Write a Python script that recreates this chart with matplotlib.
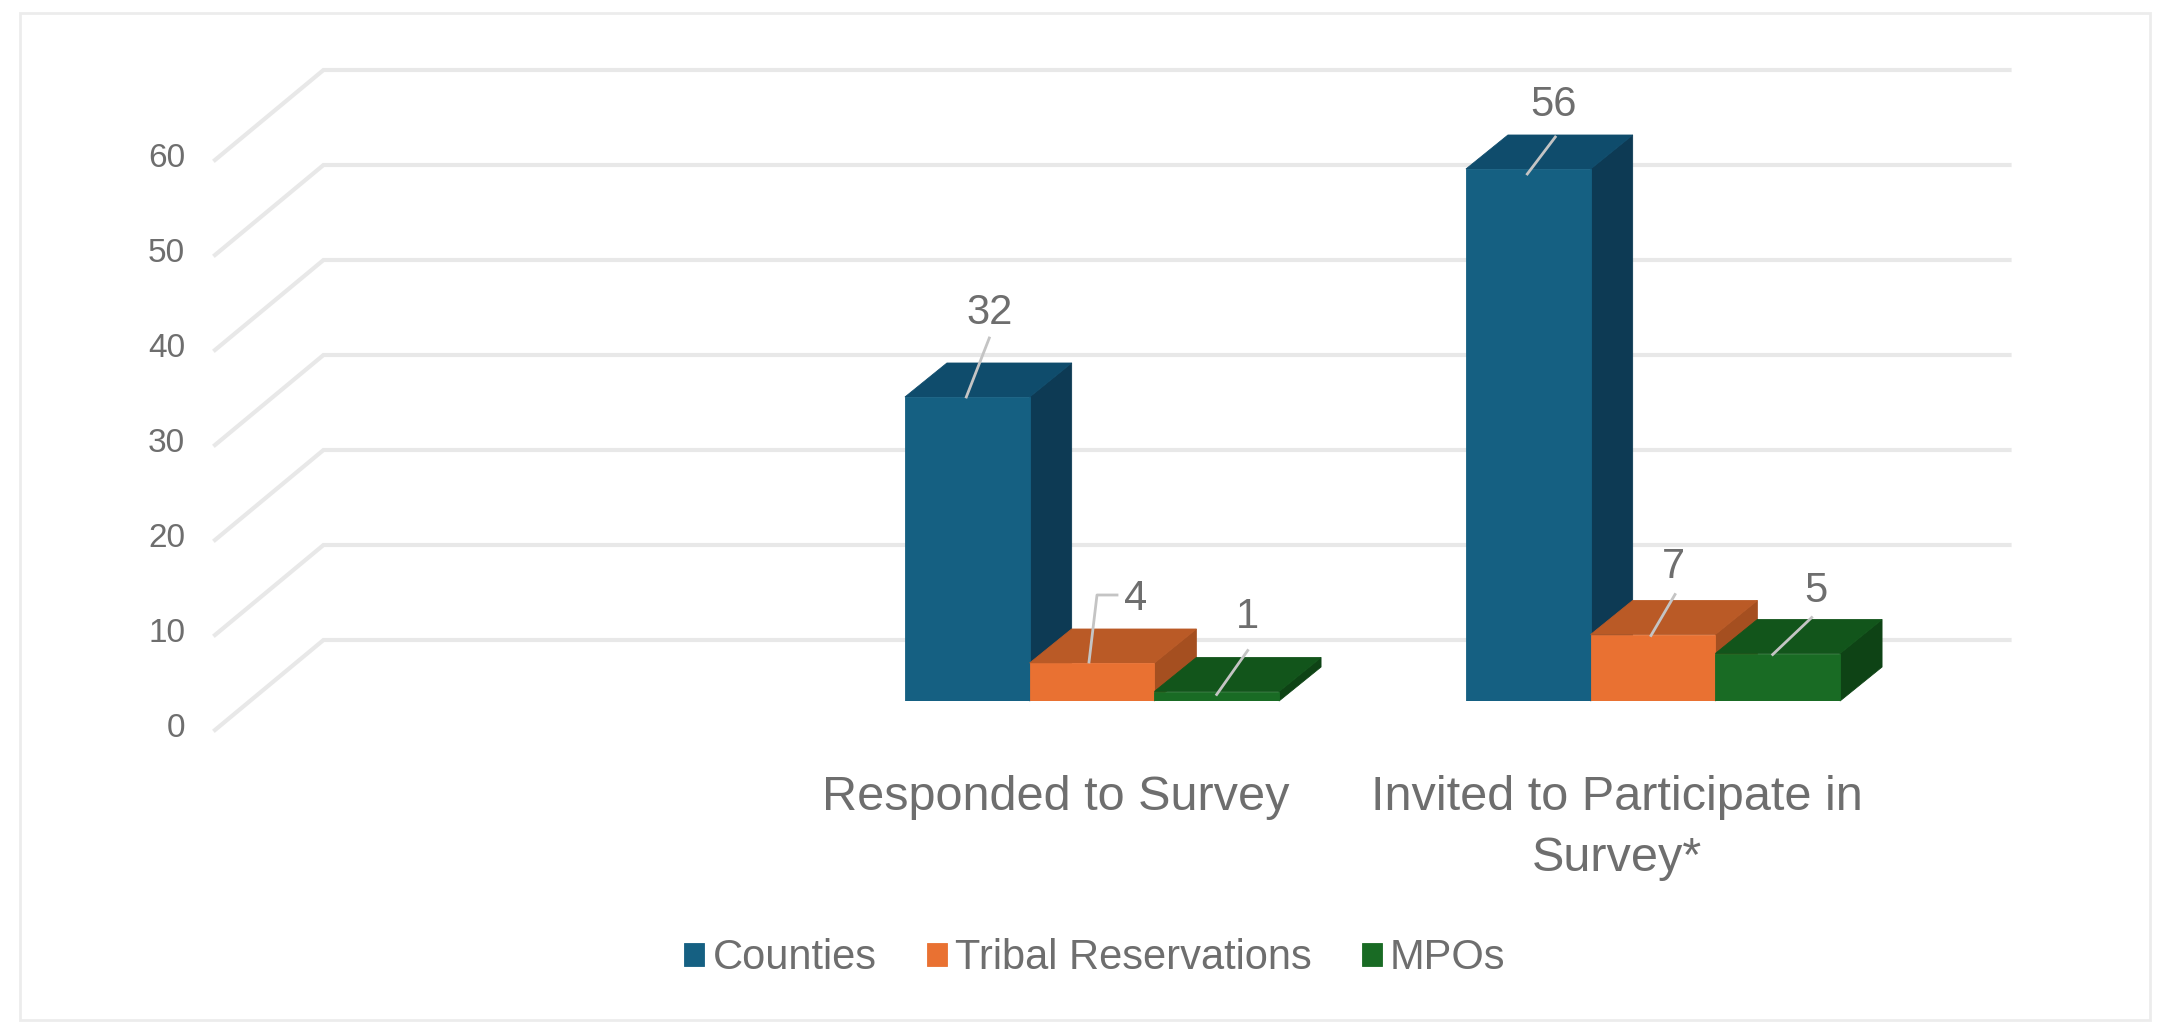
import matplotlib
matplotlib.use("Agg")
import matplotlib.pyplot as plt
from matplotlib.patches import Polygon, Rectangle
from matplotlib.transforms import ScaledTranslation

# survey counts, the first slot on the axis stays empty
categories = ["Responded to Survey", "Invited to Participate in\nSurvey*"]
cat_slots = [1, 2]
counties = [32, 56]
tribal = [4, 7]
mpos = [1, 5]
y_ticks = [0, 10, 20, 30, 40, 50, 60]

series = [
    ("Counties", counties, "#156082", "#0F4C6C", "#0D3A54"),
    ("Tribal Reservations", tribal, "#E97132", "#BA5A26", "#A54F20"),
    ("MPOs", mpos, "#196B24", "#12551B", "#0E4315"),
]

# (label dx, label dy, leader points) in pixels from the top of each bar
label_offsets = {
    "Counties": [(22, 84, [(22, 59), (-1, 0)]), (25, 64, [(27, 32), (-1, -5)])],
    "Tribal Reservations": [(44, 64, [(25, 68), (5, 68), (-3, 1)]), (20, 67, [(22, 40), (-2, -1)])],
    "MPOs": [(31, 74, [(31, 41), (0, -3)]), (38, 63, [(34, 36), (-5, -1)])],
}

W, H = 2171, 1023
PX_X = 561.0  # pixels per category
PX_Y = 9.5  # pixels per unit
BAR_W = 124.7 / PX_X
DEPTH_X = 42 / PX_X
DEPTH_Y = 34 / PX_Y

GRID = "#e8e8e8"
TEXT = "#6e6e6e"

plt.rcParams["font.family"] = ["Liberation Sans", "DejaVu Sans"]

fig = plt.figure(figsize=(W / 100, H / 100), dpi=100, facecolor="white")
ax = fig.add_axes([250.5 / W, (H - 701) / H, 3 * PX_X / W, 60 * PX_Y / H])
ax.set_xlim(-0.5, 2.5)
ax.set_ylim(0, 60)
for s in ax.spines.values():
    s.set_visible(False)
ax.patch.set_visible(False)

# outer frame
fig.add_artist(Rectangle((20 / W, 3 / H), 2130 / W, 1007 / H, transform=fig.transFigure,
                         fill=False, edgecolor="#ececec", linewidth=2))

# back wall gridlines with the slanted side wall
for v in y_ticks:
    xs = [-0.5 - 35.5 / PX_X, -0.5 + 73 / PX_X, 2.5 + 76 / PX_X]
    ys = [v - 29 / PX_Y, v + 61 / PX_Y, v + 61 / PX_Y]
    ax.plot(xs, ys, color=GRID, linewidth=3.0, clip_on=False, zorder=1,
            solid_joinstyle="miter")

# 3d columns: front face from bar(), top and side faces as polygons
for i, (name, values, front, top, side) in enumerate(series):
    xpos = [c + (i - 1) * BAR_W for c in cat_slots]
    faces = []
    for x, v in zip(xpos, values):
        l, r = x - BAR_W / 2, x + BAR_W / 2
        ax.add_patch(Polygon([(r, 0), (r, v), (r + DEPTH_X, v + DEPTH_Y), (r + DEPTH_X, DEPTH_Y)],
                             closed=True, facecolor=side, edgecolor=side, linewidth=0.6,
                             zorder=2, clip_on=False))
        ax.add_patch(Polygon([(l, v), (r, v), (r + DEPTH_X, v + DEPTH_Y), (l + DEPTH_X, v + DEPTH_Y)],
                             closed=True, facecolor=top, edgecolor=top, linewidth=0.6,
                             zorder=2, clip_on=False))
    ax.bar(xpos, values, width=BAR_W, color=front, edgecolor=front, linewidth=0.6, label=name, zorder=2)

# value labels and their leader lines
for i, (name, values, front, top, side) in enumerate(series):
    for k, v in enumerate(values):
        x = cat_slots[k] + (i - 1) * BAR_W
        dx, dy, leader = label_offsets[name][k]
        ax.text(x + dx / PX_X, v + dy / PX_Y, str(v), ha="center", va="center",
                fontsize=30, color=TEXT, zorder=4)
        ax.plot([x + p[0] / PX_X for p in leader], [v + p[1] / PX_Y for p in leader],
                color="#c4c4c4", linewidth=2, clip_on=False, zorder=3)

# tick labels sit on the front edge of the floor
ax.set_yticks(y_ticks)
ax.tick_params(axis="y", length=0, pad=47, labelsize=24, labelcolor=TEXT)
ax.set_xticks(cat_slots)
ax.set_xticklabels(categories, linespacing=1.46)
ax.tick_params(axis="x", length=0, pad=53, labelsize=35, labelcolor=TEXT)
shift_y = ScaledTranslation(0, -24 / 100, fig.dpi_scale_trans)
shift_x = ScaledTranslation(-36 / 100, 0, fig.dpi_scale_trans)
for lab in ax.get_yticklabels():
    lab.set_transform(lab.get_transform() + shift_y)
for lab in ax.get_xticklabels():
    lab.set_transform(lab.get_transform() + shift_x)

ax.legend(loc="center", bbox_to_anchor=(1095 / W, (H - 958) / H), bbox_transform=fig.transFigure,
          ncol=3, frameon=False, fontsize=30, labelcolor=TEXT, handlelength=0.48, handleheight=0.48,
          handletextpad=0.2, columnspacing=1.2)

fig.savefig("out.png", dpi=100)
